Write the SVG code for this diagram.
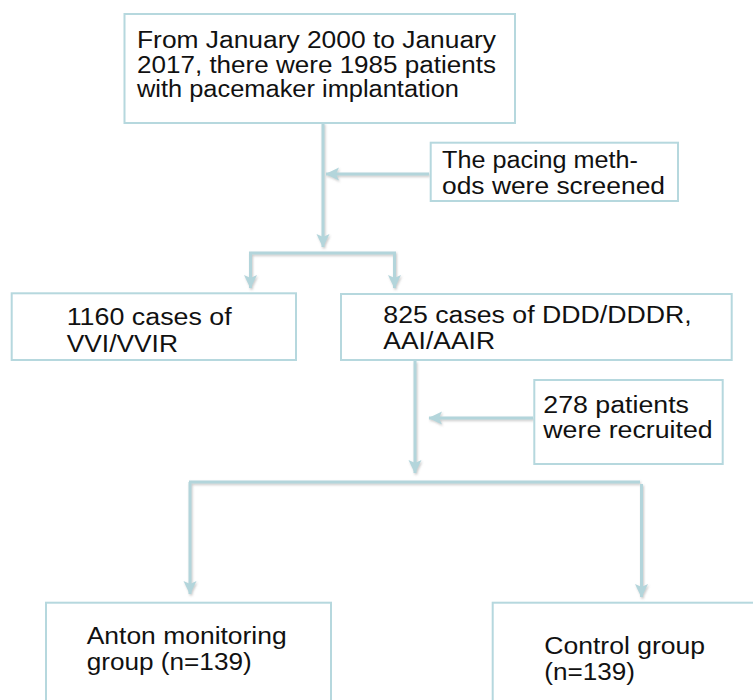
<svg xmlns="http://www.w3.org/2000/svg" width="753" height="700" viewBox="0 0 753 700">
  <style>
    .box { fill: #ffffff; stroke: #b6d8de; stroke-width: 2; }
    .t { font-family: "Liberation Sans", Arial, sans-serif; font-size: 23px; fill: #111111; }
    .conn { fill: none; stroke: #b3d5db; stroke-width: 3; }
  </style>
  <defs>
    <marker id="arrow" viewBox="0 0 14 14" refX="13" refY="7" markerWidth="14" markerHeight="14" markerUnits="userSpaceOnUse" orient="auto">
      <path d="M0,0.5 L13.5,7 L0,13.5 L3,7 Z" fill="#b3d5db"/>
    </marker>
    <filter id="shadow" x="-10%" y="-10%" width="120%" height="120%">
      <feDropShadow dx="1" dy="1.5" stdDeviation="0.8" flood-color="#888888" flood-opacity="0.45"/>
    </filter>
  </defs>
  <rect width="753" height="700" fill="#ffffff"/>

  <g id="connectors" filter="url(#shadow)">
    <path class="conn" d="M323,123 V247" marker-end="url(#arrow)"/>
    <path class="conn" d="M429,174 H326" marker-end="url(#arrow)"/>
    <path class="conn" d="M249,253 H396"/>
    <path class="conn" d="M250.5,253 V288" marker-end="url(#arrow)"/>
    <path class="conn" d="M394.5,253 V288" marker-end="url(#arrow)"/>
    <path class="conn" d="M415,361 V473" marker-end="url(#arrow)"/>
    <path class="conn" d="M533,418 H429" marker-end="url(#arrow)"/>
    <path class="conn" d="M189,482 H640"/>
    <path class="conn" d="M190,482 V594" marker-end="url(#arrow)"/>
    <path class="conn" d="M641.5,484 V597" marker-end="url(#arrow)"/>
  </g>

  <g id="node-start">
    <rect class="box" x="124.5" y="14" width="390.5" height="109"/>
    <text class="t" font-size="22" x="137" y="48" textLength="359" lengthAdjust="spacingAndGlyphs">From January 2000 to January</text>
    <text class="t" font-size="22" x="137" y="73" textLength="359" lengthAdjust="spacingAndGlyphs">2017, there were 1985 patients</text>
    <text class="t" font-size="22" x="137" y="97" textLength="322" lengthAdjust="spacingAndGlyphs">with pacemaker implantation</text>
  </g>

  <g id="node-screen">
    <rect class="box" x="430.7" y="142.7" width="247.3" height="58.3"/>
    <text class="t" font-size="24" x="442" y="168" textLength="196" lengthAdjust="spacingAndGlyphs">The pacing meth-</text>
    <text class="t" font-size="24" x="442" y="194" textLength="223" lengthAdjust="spacingAndGlyphs">ods were screened</text>
  </g>

  <g id="node-vvi">
    <rect class="box" x="11.7" y="293.3" width="284.3" height="66.7"/>
    <text class="t" x="66.7" y="325" textLength="165" lengthAdjust="spacingAndGlyphs">1160 cases of</text>
    <text class="t" x="66.7" y="351.7" textLength="111.3" lengthAdjust="spacingAndGlyphs">VVI/VVIR</text>
  </g>

  <g id="node-ddd">
    <rect class="box" x="341" y="294" width="390.7" height="66"/>
    <text class="t" x="383.3" y="323.3" textLength="308.4" lengthAdjust="spacingAndGlyphs">825 cases of DDD/DDDR,</text>
    <text class="t" x="383.3" y="349.3" textLength="111.7" lengthAdjust="spacingAndGlyphs">AAI/AAIR</text>
  </g>

  <g id="node-recruited">
    <rect class="box" x="534.3" y="380" width="188.4" height="84"/>
    <text class="t" x="543.3" y="413.3" textLength="145.7" lengthAdjust="spacingAndGlyphs">278 patients</text>
    <text class="t" x="543.3" y="438.3" textLength="169.4" lengthAdjust="spacingAndGlyphs">were recruited</text>
  </g>

  <g id="node-anton">
    <rect class="box" x="46" y="602.7" width="285" height="110"/>
    <text class="t" x="86.7" y="644" textLength="200" lengthAdjust="spacingAndGlyphs">Anton monitoring</text>
    <text class="t" x="86.7" y="670" textLength="165" lengthAdjust="spacingAndGlyphs">group (n=139)</text>
  </g>

  <g id="node-control">
    <rect class="box" x="492.7" y="602.7" width="280" height="110"/>
    <text class="t" x="544.3" y="654" textLength="160.7" lengthAdjust="spacingAndGlyphs">Control group</text>
    <text class="t" x="544.3" y="680" textLength="90.7" lengthAdjust="spacingAndGlyphs">(n=139)</text>
  </g>
</svg>
